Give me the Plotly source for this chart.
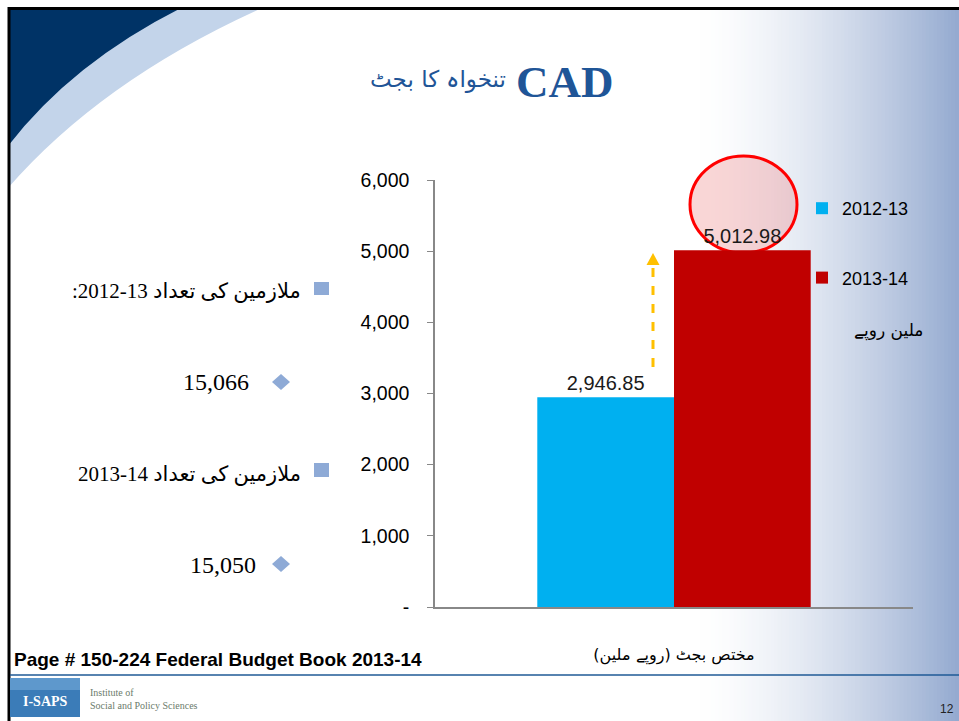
import plotly.graph_objects as go

W, H = 959, 721

# ---- data ----
categories = ["\u202Bمختص بجٹ (روپے ملین)\u202C"]
series_names = ["2012-13", "2013-14"]
values_2012_13 = [2946.85]
values_2013_14 = [5012.98]
series_colors = ["#00B0F0", "#C00000"]
y_tick_vals = [0, 1000, 2000, 3000, 4000, 5000, 6000]
y_tick_text = ["-", "1,000", "2,000", "3,000", "4,000", "5,000", "6,000"]
employees_labels = ["\u200E:2012-13 ملازمین کی تعداد", "\u200E2013-14 ملازمین کی تعداد"]
employees_values = ["15,066", "15,050"]


def px(x):
    return x / W


def py(y):
    return 1 - y / H


fig = go.Figure()
for name, vals, col, grp in [(series_names[0], values_2012_13, series_colors[0], "a"),
                              (series_names[1], values_2013_14, series_colors[1], "b")]:
    fig.add_trace(go.Bar(
        x=categories, y=vals, name=name, marker=dict(color=col, line=dict(width=0)),
        texttemplate="%{y:,.2f}", textposition="outside", cliponaxis=False,
        textfont=dict(family="Liberation Sans, Arial", size=20, color="#1a1a1a"),
        legendgroup=grp,
    ))

shapes = []
# right-side gradient
n = 70
x_start, x_end = 700, 959
c_end = (148, 170, 208)
for i in range(n):
    xa = x_start + (x_end - x_start) * i / n
    xb = x_start + (x_end - x_start) * (i + 1) / n + 0.8
    f = ((i + 0.5) / n) ** 1.5
    r = int(255 + (c_end[0] - 255) * f)
    g = int(255 + (c_end[1] - 255) * f)
    b = int(255 + (c_end[2] - 255) * f)
    shapes.append(dict(type="rect", xref="paper", yref="paper", x0=px(xa), x1=px(min(xb, W)),
                       y0=0, y1=py(8), fillcolor=f"rgb({r},{g},{b})", line=dict(width=0), layer="below"))

# top-left swoosh
light = f"M {px(8)},{py(8)} L {px(262)},{py(8)} Q {px(102)},{py(80)} {px(8)},{py(188)} Z"
dark = f"M {px(8)},{py(8)} L {px(181)},{py(8)} Q {px(72)},{py(63)} {px(8)},{py(146)} Z"
shapes.append(dict(type="path", xref="paper", yref="paper", path=light, fillcolor="#C3D4EA",
                   line=dict(width=0), layer="below"))
shapes.append(dict(type="path", xref="paper", yref="paper", path=dark, fillcolor="#003366",
                   line=dict(width=0), layer="below"))

# ellipse highlight
shapes.append(dict(type="circle", xref="paper", yref="paper", x0=px(690), x1=px(797), y0=py(253), y1=py(156),
                   fillcolor="rgba(235,100,100,0.26)", line=dict(color="#FF0000", width=3), layer="below"))
# dashed arrow
shapes.append(dict(type="line", xref="paper", yref="paper", x0=px(653), x1=px(653), y0=py(367), y1=py(264),
                   line=dict(color="#FFC000", width=3, dash="dash")))
shapes.append(dict(type="path", xref="paper", yref="paper",
                   path=f"M {px(653)},{py(253)} L {px(646.5)},{py(265)} L {px(659.5)},{py(265)} Z",
                   fillcolor="#FFC000", line=dict(width=0)))

# bullets
bullet_color = "#8EAAD6"
for y0, y1 in [(282, 295), (463, 477)]:
    shapes.append(dict(type="rect", xref="paper", yref="paper", x0=px(314), x1=px(329), y0=py(y1), y1=py(y0),
                       fillcolor=bullet_color, line=dict(width=0)))
for yc in [382, 564]:
    shapes.append(dict(type="path", xref="paper", yref="paper",
                       path=(f"M {px(281)},{py(yc - 8)} L {px(290)},{py(yc)} L {px(281)},{py(yc + 8)} "
                             f"L {px(272)},{py(yc)} Z"),
                       fillcolor=bullet_color, line=dict(width=0)))

# borders
shapes.append(dict(type="line", xref="paper", yref="paper", x0=px(9), x1=px(9), y0=0, y1=py(7),
                   line=dict(color="black", width=3)))
shapes.append(dict(type="line", xref="paper", yref="paper", x0=px(8), x1=1, y0=py(8.5), y1=py(8.5),
                   line=dict(color="black", width=3)))
# bottom rule
shapes.append(dict(type="line", xref="paper", yref="paper", x0=px(10), x1=1, y0=py(675), y1=py(675),
                   line=dict(color="#1F5A96", width=1.5)))
# logo box
shapes.append(dict(type="rect", xref="paper", yref="paper", x0=px(10), x1=px(80), y0=py(717), y1=py(678),
                   fillcolor="#3B7CB8", line=dict(width=0)))
shapes.append(dict(type="rect", xref="paper", yref="paper", x0=px(10), x1=px(80), y0=py(690), y1=py(678),
                   fillcolor="#5E98CC", line=dict(width=0)))

annotations = []
title_color = "#1F5597"
annotations.append(dict(text="تنخواہ کا بجٹ", x=px(508), y=py(80), xref="paper", yref="paper",
                        xanchor="right", yanchor="middle", showarrow=False,
                        font=dict(family="DejaVu Sans", size=23, color=title_color)))
annotations.append(dict(text="<b>CAD</b>", x=px(514), y=py(82), xref="paper", yref="paper",
                        xanchor="left", yanchor="middle", showarrow=False,
                        font=dict(family="Liberation Serif, Times New Roman", size=45, color=title_color)))

serif = "Liberation Serif, DejaVu Sans"
rows = [(291, employees_labels[0], 382, employees_values[0], 251),
        (474, employees_labels[1], 565, employees_values[1], 258)]
for yl, lab, yv, val, xv in rows:
    annotations.append(dict(text=lab, x=px(303), y=py(yl), xref="paper", yref="paper", showarrow=False,
                            xanchor="right", yanchor="middle", font=dict(size=21, color="black", family=serif)))
    annotations.append(dict(text=val, x=px(xv), y=py(yv), xref="paper", yref="paper", showarrow=False,
                            xanchor="right", yanchor="middle", font=dict(size=24, color="black", family=serif)))

annotations.append(dict(text="\u202Bملین روپے\u202C", x=px(888), y=py(330), xref="paper", yref="paper",
                        showarrow=False, xanchor="center", yanchor="middle",
                        font=dict(size=17, color="black", family="DejaVu Sans")))
annotations.append(dict(text="<b>Page # 150-224 Federal Budget Book 2013-14</b>", x=px(12), y=py(659),
                        xref="paper", yref="paper", showarrow=False, xanchor="left", yanchor="middle",
                        font=dict(size=19, color="black", family="Liberation Sans, Arial")))
annotations.append(dict(text="12", x=px(956), y=py(709), xref="paper", yref="paper", showarrow=False,
                        xanchor="right", yanchor="middle",
                        font=dict(size=12, color="#222", family="Liberation Sans, Arial")))
annotations.append(dict(text="<b>I-SAPS</b>", x=px(45), y=py(701), xref="paper", yref="paper", showarrow=False,
                        xanchor="center", yanchor="middle",
                        font=dict(size=14, color="white", family="Liberation Serif")))
annotations.append(dict(text="Institute of<br>Social and Policy Sciences", x=px(88), y=py(699), xref="paper",
                        yref="paper", showarrow=False, xanchor="left", yanchor="middle", align="left",
                        font=dict(size=10, color="#6B7B6B", family="Liberation Serif")))

fig.update_layout(
    width=W, height=H, autosize=False,
    margin=dict(l=0, r=0, t=0, b=0, pad=0),
    paper_bgcolor="white", plot_bgcolor="rgba(0,0,0,0)",
    barmode="group", bargap=0.428, bargroupgap=0,
    showlegend=True,
    legend=dict(x=px(802), y=py(190), xanchor="left", yanchor="top", traceorder="grouped",
                tracegroupgap=43, bgcolor="rgba(0,0,0,0)",
                font=dict(family="Liberation Sans, Arial", size=18, color="black")),
    xaxis=dict(domain=[px(435), px(913)], showline=True, linecolor="#888888", linewidth=1.5,
               ticks="", showgrid=False, ticklabelstandoff=32, automargin=False,
               tickfont=dict(family="DejaVu Sans", size=16, color="black")),
    yaxis=dict(domain=[py(607), py(180)], range=[0, 6000], tickvals=y_tick_vals, ticktext=y_tick_text,
               showline=True, linecolor="#888888", linewidth=1.5, ticks="outside", ticklen=6,
               tickcolor="#888888", showgrid=False, zeroline=False, ticklabelstandoff=14, automargin=False,
               tickfont=dict(family="Liberation Sans, Arial", size=19.5, color="black")),
    shapes=shapes, annotations=annotations,
)

fig.write_html("out.html", config={"displayModeBar": False},
               post_script="document.body.style.margin='0';document.body.style.overflow='hidden';")
